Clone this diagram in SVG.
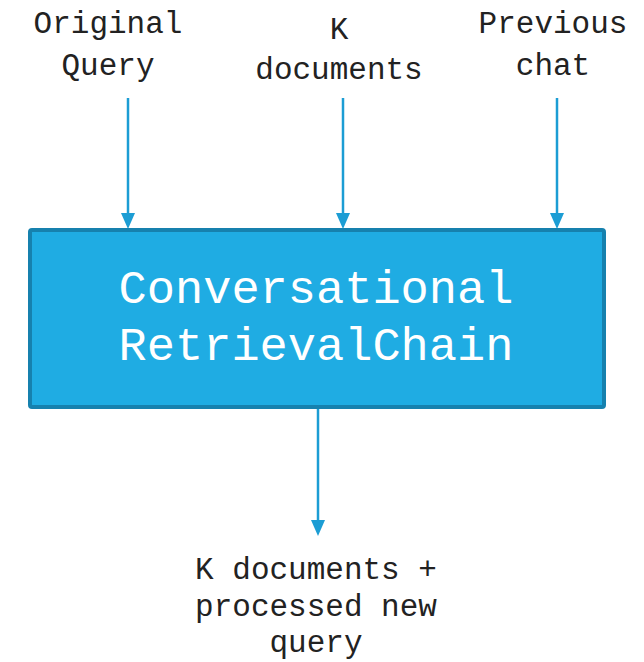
<svg xmlns="http://www.w3.org/2000/svg" width="644" height="662" viewBox="0 0 644 662">
<defs>
<style>
.lbl{font-family:"Liberation Mono","Courier New",monospace;font-size:31px;fill:#222;text-anchor:middle}
.box-t{font-family:"Liberation Mono","Courier New",monospace;font-size:47px;fill:#fff;text-anchor:middle}
.conn{stroke:#1C9DD4;stroke-width:2.5;fill:none}
.head{fill:#1C9DD4}
</style>
</defs>
<rect width="644" height="662" fill="#fff"/>
<g id="connectors">
<line class="conn" x1="128" y1="98" x2="128" y2="214"/>
<path class="head" d="M121,213 L135,213 L128,229 Z"/>
<line class="conn" x1="343" y1="98" x2="343" y2="214"/>
<path class="head" d="M336,213 L350,213 L343,229 Z"/>
<line class="conn" x1="557" y1="98" x2="557" y2="214"/>
<path class="head" d="M550,213 L564,213 L557,229 Z"/>
<line class="conn" x1="318" y1="408" x2="318" y2="521"/>
<path class="head" d="M311,520 L325,520 L318,536 Z"/>
</g>
<g id="node-original-query">
<text class="lbl" x="108" y="33">Original</text>
<text class="lbl" x="108" y="75">Query</text>
</g>
<g id="node-k-documents">
<text class="lbl" x="339" y="39">K</text>
<text class="lbl" x="339" y="79">documents</text>
</g>
<g id="node-previous-chat">
<text class="lbl" x="553" y="33">Previous</text>
<text class="lbl" x="553" y="75">chat</text>
</g>
<g id="node-chain">
<rect x="30" y="230" width="574" height="177" rx="2" fill="#1FACE3" stroke="#1681AE" stroke-width="4"/>
<text class="box-t" x="316" y="303">Conversational</text>
<text class="box-t" x="316" y="360">RetrievalChain</text>
</g>
<g id="node-output">
<text class="lbl" x="316" y="579">K documents +</text>
<text class="lbl" x="316" y="616">processed new</text>
<text class="lbl" x="316" y="652">query</text>
</g>
</svg>
